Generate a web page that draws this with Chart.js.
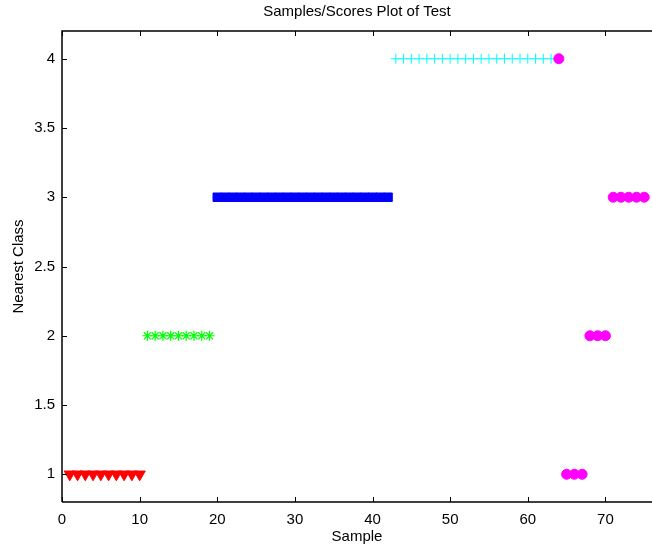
<!DOCTYPE html>
<html>
<head>
<meta charset="utf-8">
<script src="https://cdn.jsdelivr.net/npm/chart.js@4.4.1/dist/chart.umd.min.js"></script>
<style>
    html, body { margin: 0; padding: 0; background: #fff; }
    #wrap { width: 652px; height: 546px; }
</style>
</head>
<body>
<div id="wrap"><canvas id="scoresChart" width="652" height="546"></canvas></div>
<script>
// ==================== DATA ====================
const xTicks = [0, 10, 20, 30, 40, 50, 60, 70];
const yTicks = [1, 1.5, 2, 2.5, 3, 3.5, 4];

const redSamples = [1, 2, 3, 4, 5, 6, 7, 8, 9, 10];
const redClass = [1, 1, 1, 1, 1, 1, 1, 1, 1, 1];

const greenSamples = [11, 12, 13, 14, 15, 16, 17, 18, 19];
const greenClass = [2, 2, 2, 2, 2, 2, 2, 2, 2];

const blueSamples = [20, 21, 22, 23, 24, 25, 26, 27, 28, 29, 30, 31, 32, 33, 34, 35, 36, 37, 38, 39, 40, 41, 42];
const blueClass = [3, 3, 3, 3, 3, 3, 3, 3, 3, 3, 3, 3, 3, 3, 3, 3, 3, 3, 3, 3, 3, 3, 3];

const cyanSamples = [43, 44, 45, 46, 47, 48, 49, 50, 51, 52, 53, 54, 55, 56, 57, 58, 59, 60, 61, 62, 63];
const cyanClass = [4, 4, 4, 4, 4, 4, 4, 4, 4, 4, 4, 4, 4, 4, 4, 4, 4, 4, 4, 4, 4];

const magentaSamples = [64, 65, 66, 67, 68, 69, 70, 71, 72, 73, 74, 75];
const magentaClass = [4, 1, 1, 1, 2, 2, 2, 3, 3, 3, 3, 3];

const FONT = "'Liberation Sans', Arial, Helvetica, sans-serif";

function toPoints(xs, ys) {
    return xs.map((x, i) => ({ x: x, y: ys[i] }));
}

// ==================== FRAME + INWARD TICKS ====================
const matlabFrame = {
    id: 'matlabFrame',
    afterDraw(chart) {
        const ctx = chart.ctx;
        const a = chart.chartArea;
        const xs = chart.scales.x;
        const ys = chart.scales.y;
        const len = 5;
        ctx.save();
        ctx.strokeStyle = '#000';
        ctx.lineWidth = 1.5;
        ctx.beginPath();
        ctx.moveTo(a.left, a.bottom);
        ctx.lineTo(a.left, a.top);
        ctx.lineTo(a.right, a.top);
        ctx.moveTo(a.left, a.bottom);
        ctx.lineTo(a.right, a.bottom);
        ctx.stroke();

        ctx.lineWidth = 1;
        ctx.beginPath();
        xTicks.forEach(v => {
            const px = Math.round(xs.getPixelForValue(v)) + 0.5;
            ctx.moveTo(px, a.bottom);
            ctx.lineTo(px, a.bottom - len);
            ctx.moveTo(px, a.top);
            ctx.lineTo(px, a.top + len);
        });
        yTicks.forEach(v => {
            const py = Math.round(ys.getPixelForValue(v)) + 0.5;
            ctx.moveTo(a.left, py);
            ctx.lineTo(a.left + len, py);
        });
        ctx.stroke();
        ctx.restore();
    }
};

// ==================== CHART ====================
const ctx = document.getElementById('scoresChart').getContext('2d');
new Chart(ctx, {
    type: 'scatter',
    data: {
        datasets: [
            {
                label: 'Class 1',
                data: toPoints(redSamples, redClass),
                pointStyle: 'triangle',
                rotation: 180,
                radius: 6.5,
                backgroundColor: '#ff0000',
                borderColor: '#ff0000',
                borderWidth: 1,
                order: 1
            },
            {
                label: 'Class 2',
                data: toPoints(greenSamples, greenClass),
                pointStyle: 'star',
                radius: 5,
                backgroundColor: '#00ff00',
                borderColor: '#00ff00',
                borderWidth: 1.2,
                order: 1
            },
            {
                label: 'Class 3',
                data: toPoints(blueSamples, blueClass),
                pointStyle: 'rect',
                radius: 6,
                backgroundColor: '#0000ff',
                borderColor: '#0000ff',
                borderWidth: 1,
                order: 1
            },
            {
                label: 'Class 4',
                data: toPoints(cyanSamples, cyanClass),
                pointStyle: 'cross',
                radius: 5,
                backgroundColor: '#00ffff',
                borderColor: '#00ffff',
                borderWidth: 1,
                order: 1
            },
            {
                label: 'Unknown',
                data: toPoints(magentaSamples, magentaClass),
                pointStyle: 'circle',
                radius: 5,
                backgroundColor: '#ff00ff',
                borderColor: '#ff00ff',
                borderWidth: 1,
                order: 0
            }
        ]
    },
    options: {
        responsive: false,
        animation: false,
        devicePixelRatio: 1,
        layout: { padding: 0, autoPadding: false },
        plugins: {
            legend: { display: false },
            tooltip: { enabled: false },
            title: {
                display: true,
                fullSize: false,
                text: 'Samples/Scores Plot of Test',
                color: '#000',
                font: { family: FONT, size: 15, weight: 'normal' },
                padding: { top: 3, bottom: 10 }
            }
        },
        scales: {
            x: {
                type: 'linear',
                min: 0,
                max: 76,
                afterBuildTicks: s => { s.ticks = xTicks.map(v => ({ value: v })); },
                afterFit: s => { s.height = 44; s.paddingLeft = 0; s.paddingRight = 0; },
                grid: { display: false, drawTicks: false },
                border: { display: false },
                ticks: {
                    color: '#000', font: { family: FONT, size: 15 }, padding: 9,
                    maxRotation: 0, autoSkip: false, callback: v => String(v)
                },
                title: {
                    display: true,
                    text: 'Sample',
                    color: '#000',
                    font: { family: FONT, size: 15 },
                    padding: { top: 0, bottom: 0 }
                }
            },
            y: {
                type: 'linear',
                min: 0.8,
                max: 4.2,
                afterBuildTicks: s => { s.ticks = yTicks.map(v => ({ value: v })); },
                afterFit: s => { s.width = 62; s.paddingTop = 0; s.paddingBottom = 0; },
                grid: { display: false, drawTicks: false },
                border: { display: false },
                ticks: {
                    color: '#000', font: { family: FONT, size: 15 }, padding: 7,
                    autoSkip: false, callback: v => String(v)
                },
                title: {
                    display: true,
                    text: 'Nearest Class',
                    color: '#000',
                    font: { family: FONT, size: 15 },
                    padding: { top: 10, bottom: 0 }
                }
            }
        }
    },
    plugins: [matlabFrame]
});
</script>
</body>
</html>
